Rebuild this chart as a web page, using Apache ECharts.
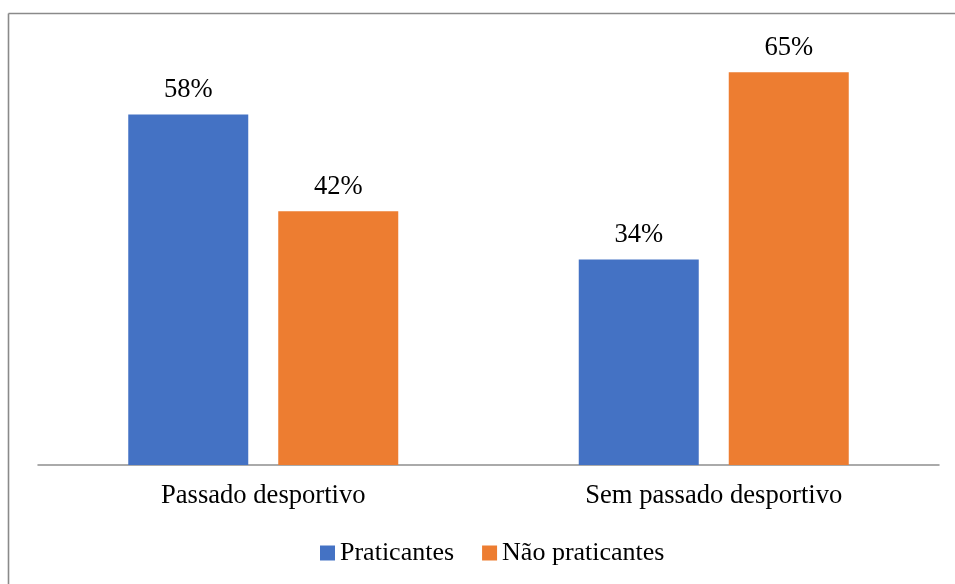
<!DOCTYPE html>
<html>
<head>
<meta charset="utf-8">
<script src="https://cdn.jsdelivr.net/npm/echarts@6/dist/echarts.min.js"></script>
<style>
html,body{margin:0;padding:0;background:#fff;}
#chart{width:955px;height:584px;}
</style>
</head>
<body>
<div id="chart"></div>
<script>
const categories = ['Passado desportivo', 'Sem passado desportivo'];
const praticantes = [58, 34];
const naoPraticantes = [42, 65];
const seriesNames = ['Praticantes', 'Não praticantes'];

const chart = echarts.init(document.getElementById('chart'));
const font = '"Liberation Serif", "Times New Roman", serif';
const fs = 26.6;
const labelCfg = {
  show: true,
  position: 'top',
  distance: 11,
  formatter: p => p.value + '%',
  color: '#000',
  fontFamily: font,
  fontSize: fs
};
chart.setOption({
  animation: false,
  textStyle: { fontFamily: font },
  graphic: [
    {
      type: 'line',
      shape: { x1: 8.5, y1: 13.5, x2: 960, y2: 13.5 },
      style: { stroke: '#8a8a8a', lineWidth: 1.6 },
      silent: true
    },
    {
      type: 'line',
      shape: { x1: 8.5, y1: 13.5, x2: 8.5, y2: 600 },
      style: { stroke: '#8a8a8a', lineWidth: 1.6 },
      silent: true
    }
  ],
  grid: { left: 38, right: 16, top: 42, bottom: 119, containLabel: false },
  legend: {
    left: 315,
    top: 535,
    itemWidth: 15,
    itemHeight: 15,
    itemGap: 28,
    icon: 'rect',
    data: seriesNames,
    textStyle: { fontFamily: font, fontSize: 26, color: '#000' }
  },
  xAxis: {
    type: 'category',
    data: categories,
    axisLine: { lineStyle: { color: '#8f8f8f', width: 1.5 } },
    axisTick: { show: false },
    axisLabel: { color: '#000', fontFamily: font, fontSize: fs, margin: 18 }
  },
  yAxis: {
    type: 'value',
    min: 0,
    max: 70,
    show: false,
    splitLine: { show: false }
  },
  series: [
    {
      name: seriesNames[0],
      type: 'bar',
      data: praticantes,
      barWidth: 120,
      barGap: '25%',
      itemStyle: { color: '#4472C4' },
      label: labelCfg
    },
    {
      name: seriesNames[1],
      type: 'bar',
      data: naoPraticantes,
      barWidth: 120,
      itemStyle: { color: '#ED7D31' },
      label: labelCfg
    }
  ]
});
</script>
</body>
</html>
